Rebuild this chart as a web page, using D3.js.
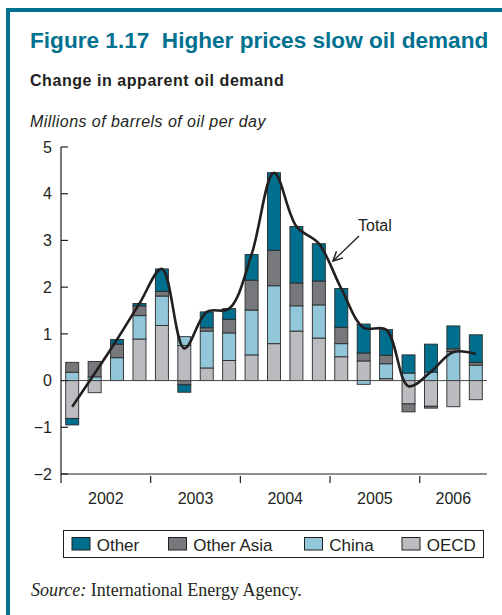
<!DOCTYPE html>
<html>
<head>
<meta charset="utf-8">
<title>Figure 1.17</title>
<script src="https://d3js.org/d3.v7.min.js"></script>
<style>
  body { margin: 0; background: #fff; }
  svg text { font-family: "Liberation Sans", Arial, sans-serif; fill: #231f20; }
</style>
</head>
<body>
<div id="chart"></div>
<script>
// quarterly change in apparent oil demand, mb/d (2002Q1 .. 2006Q3)
var quarters = ["2002Q1","2002Q2","2002Q3","2002Q4","2003Q1","2003Q2","2003Q3","2003Q4",
                "2004Q1","2004Q2","2004Q3","2004Q4","2005Q1","2005Q2","2005Q3","2005Q4",
                "2006Q1","2006Q2","2006Q3"];
var oecd      = [-0.81,-0.26, 0.00, 0.89, 1.18, 0.75, 0.27, 0.43, 0.55, 0.79, 1.06, 0.91, 0.51, 0.42, 0.04,-0.50,-0.55,-0.56,-0.41];
var china     = [ 0.18, 0.08, 0.49, 0.50, 0.63, 0.19, 0.79, 0.59, 0.96, 1.24, 0.54, 0.71, 0.28,-0.08, 0.32, 0.16, 0.18, 0.62, 0.33];
var otherAsia = [ 0.21, 0.33, 0.29, 0.21, 0.10,-0.09, 0.07, 0.29, 0.64, 0.76, 0.49, 0.51, 0.35, 0.17, 0.18,-0.17,-0.04, 0.06, 0.06];
var other     = [-0.14, 0.00, 0.10, 0.05, 0.48,-0.16, 0.34, 0.23, 0.55, 1.66, 1.21, 0.80, 0.83, 0.62, 0.55, 0.39, 0.60, 0.49, 0.59];
var years = ["2002","2003","2004","2005","2006"];
var yTicks = [-2,-1,0,1,2,3,4,5];

var keys = ["oecd","china","otherAsia","other"];
var names = {other: "Other", otherAsia: "Other Asia", china: "China", oecd: "OECD"};
var colors = {other: "#006f8e", otherAsia: "#77787b", china: "#92c7da", oecd: "#bbbcbf"};
var teal = "#00718f";

var rows = quarters.map(function(q, i) {
  return {q: q, oecd: oecd[i], china: china[i], otherAsia: otherAsia[i], other: other[i]};
});
var totals = rows.map(function(d) { return d.oecd + d.china + d.otherAsia + d.other; });

var W = 502, H = 615;
var svg = d3.select("#chart").append("svg").attr("width", W).attr("height", H);

// frame
svg.append("rect").attr("x", 6).attr("y", 8).attr("width", W - 6).attr("height", 4).attr("fill", teal);
svg.append("rect").attr("x", 6).attr("y", 8).attr("width", 4).attr("height", H - 8).attr("fill", teal);

svg.append("text").attr("x", 30).attr("y", 48)
  .style("font-size", "22.6px").style("font-weight", "bold").style("fill", teal)
  .attr("xml:space", "preserve")
  .text("Figure 1.17  Higher prices slow oil demand");
svg.append("text").attr("x", 30).attr("y", 86)
  .style("font-size", "16px").style("font-weight", "bold").style("letter-spacing", "0.55px")
  .text("Change in apparent oil demand");
svg.append("text").attr("x", 30).attr("y", 127)
  .style("font-size", "16px").style("font-style", "italic").style("letter-spacing", "0.45px")
  .text("Millions of barrels of oil per day");

var x0 = 61, x1 = 487;
var x = d3.scaleBand().domain(quarters).range([x0, x1]).paddingInner(0.42).paddingOuter(0.21);
var y = d3.scaleLinear().domain([-2, 5]).range([474, 147]);

var series = d3.stack().keys(keys).offset(d3.stackOffsetDiverging)(rows);

var g = svg.append("g");
series.forEach(function(s) {
  g.selectAll(null).data(s).enter().append("rect")
    .attr("x", function(d) { return x(d.data.q); })
    .attr("width", x.bandwidth())
    .attr("y", function(d) { return y(Math.max(d[0], d[1])); })
    .attr("height", function(d) { return Math.abs(y(d[0]) - y(d[1])); })
    .attr("fill", colors[s.key])
    .attr("stroke", "#2b2b2b").attr("stroke-width", 0.9);
});

// zero line
svg.append("line").attr("x1", x0).attr("x2", x1).attr("y1", y(0)).attr("y2", y(0))
  .attr("stroke", "#4a4a4a").attr("stroke-width", 1);

// y axis
svg.append("line").attr("x1", x0).attr("x2", x0).attr("y1", y(5)).attr("y2", y(-2) + 9)
  .attr("stroke", "#231f20").attr("stroke-width", 1.2);
svg.selectAll(".ytick").data(yTicks).enter().append("line")
  .attr("x1", x0).attr("x2", x0 + 7).attr("y1", function(d) { return y(d); }).attr("y2", function(d) { return y(d); })
  .attr("stroke", "#231f20").attr("stroke-width", 1.2);
svg.selectAll(".ylab").data(yTicks).enter().append("text")
  .attr("x", 52).attr("y", function(d) { return y(d); }).attr("dy", "0.36em")
  .attr("text-anchor", "end").style("font-size", "16px")
  .text(function(d) { return d < 0 ? "\u2212" + Math.abs(d) : d; });

// x axis
svg.append("line").attr("x1", x0).attr("x2", x1).attr("y1", y(-2)).attr("y2", y(-2))
  .attr("stroke", "#231f20").attr("stroke-width", 1.2);
var step = x.step();
years.forEach(function(yr, i) {
  var qs = quarters.filter(function(q) { return q.slice(0, 4) === yr; });
  var a = x(qs[0]) - (x.step() - x.bandwidth()) / 2;
  var b = a + 4 * step;
  if (i > 0) {
    svg.append("line").attr("x1", a).attr("x2", a).attr("y1", y(-2) + 2).attr("y2", y(-2) + 9)
      .attr("stroke", "#231f20").attr("stroke-width", 1.2);
  }
  svg.append("text").attr("x", i === years.length - 1 ? (a + x1) / 2 : (a + b) / 2).attr("y", 504)
    .attr("text-anchor", "middle").style("font-size", "16px").text(yr);
});

// total line
var line = d3.line()
  .x(function(d, i) { return x(quarters[i]) + x.bandwidth() / 2; })
  .y(function(d) { return y(d); })
  .curve(d3.curveCatmullRom.alpha(0.5));
svg.append("path").datum(totals).attr("d", line)
  .attr("fill", "none").attr("stroke", "#231f20").attr("stroke-width", 2.6);

// annotation
svg.append("defs").append("marker").attr("id", "arr")
  .attr("viewBox", "0 0 10 10").attr("refX", 9).attr("refY", 5)
  .attr("markerWidth", 9).attr("markerHeight", 9).attr("orient", "auto")
  .append("path").attr("d", "M1,1 L9,5 L1,9").attr("fill", "none").attr("stroke", "#231f20").attr("stroke-width", 1.3);
svg.append("line").attr("x1", 359).attr("y1", 236).attr("x2", 333).attr("y2", 261)
  .attr("stroke", "#231f20").attr("stroke-width", 1.3).attr("marker-end", "url(#arr)");
svg.append("text").attr("x", 358).attr("y", 231).style("font-size", "16px").text("Total");

// legend
svg.append("rect").attr("x", 63.5).attr("y", 530.5).attr("width", 420).attr("height", 27)
  .attr("fill", "#fff").attr("stroke", "#231f20").attr("stroke-width", 1);
var legendX = {other: 72, otherAsia: 168.5, china: 304.5, oecd: 402};
["other","otherAsia","china","oecd"].forEach(function(k) {
  svg.append("rect").attr("x", legendX[k]).attr("y", 537.5).attr("width", 18).attr("height", 12.5)
    .attr("fill", colors[k]).attr("stroke", "#231f20").attr("stroke-width", 1);
  svg.append("text").attr("x", legendX[k] + 24.7).attr("y", 551).style("font-size", "17px").text(names[k]);
});

// source
var src = svg.append("text").attr("x", 31).attr("y", 596)
  .style("font-family", "'Liberation Serif', 'Times New Roman', serif").style("font-size", "18px");
src.append("tspan").style("font-style", "italic").style("font-family", "'Liberation Serif', serif").text("Source:");
src.append("tspan").style("font-family", "'Liberation Serif', serif").text(" International Energy Agency.");
</script>
</body>
</html>
